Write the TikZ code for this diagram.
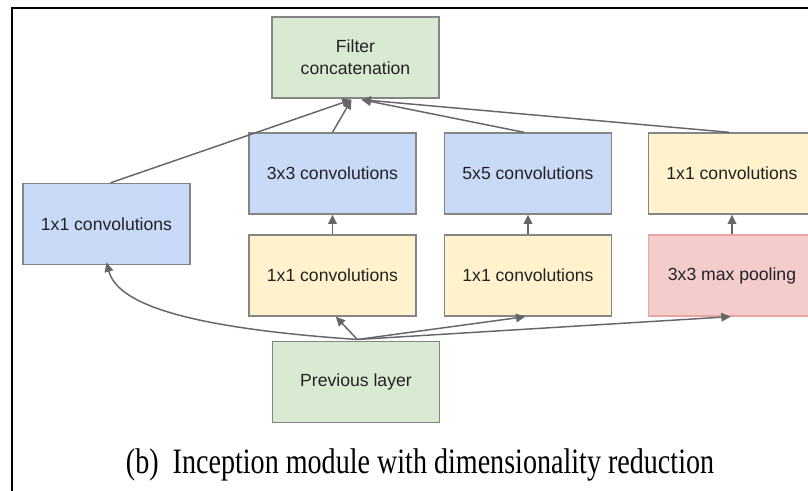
\documentclass[tikz,border=0pt]{standalone}
\usepackage{fontspec}
\setmainfont{Liberation Serif}
\newfontfamily\boxfont{Liberation Sans}
\usepackage{graphicx}
\usetikzlibrary{arrows.meta,calc}
\definecolor{bluef}{HTML}{C9DAF8}
\definecolor{yellowf}{HTML}{FFF2CC}
\definecolor{greenf}{HTML}{D9EAD3}
\definecolor{redf}{HTML}{F4CCCC}
\definecolor{redd}{HTML}{E8A3A3}
\definecolor{edgeg}{HTML}{858585}
\definecolor{arrowg}{HTML}{666666}
\definecolor{txt}{HTML}{222222}
\begin{document}
\begin{tikzpicture}[x=0.75pt,y=-0.75pt,
  blk/.style={draw=edgeg, line width=1pt, minimum width=125.25pt, minimum height=60.75pt,
    inner sep=0pt, align=center, text=txt, font=\boxfont\fontsize{13.2}{16.5}\selectfont},
  bluebox/.style={blk, fill=bluef},
  yellowbox/.style={blk, fill=yellowf},
  greenbox/.style={blk, fill=greenf},
  redbox/.style={blk, fill=redf, draw=redd},
  conn/.style={draw=arrowg, line width=1.1pt, -{Triangle[length=7pt,width=6.5pt]}}]
\useasboundingbox (0,0) rectangle (808,491);
\clip (0,0) rectangle (808,491);
\fill[white] (0,0) rectangle (808,491);
% frame
\draw[line width=1.4pt, black] (12,495) -- (12,8) -- (812,8);
% boxes
\node[greenbox] (filt) at (355.5,57.5) {Filter\\concatenation};
\node[bluebox] (c1) at (106.5,224) {1x1 convolutions};
\node[bluebox] (c3) at (332.5,173.5) {3x3 convolutions};
\node[bluebox] (c5) at (528,173.5) {5x5 convolutions};
\node[yellowbox] (p1) at (732,173.5) {1x1 convolutions};
\node[yellowbox] (r3) at (332.5,275.5) {1x1 convolutions};
\node[yellowbox] (r5) at (528,275.5) {1x1 convolutions};
\node[redbox] (mp) at (732,275.5) {3x3 max pooling};
\node[greenbox] (prev) at (356,382) {Previous layer};
% targets on filter concatenation
\coordinate (ta) at ($(filt.south)+(-4,1)$);
\coordinate (tb) at ($(filt.south)+(6,1)$);
% arrows to filter concatenation
\draw[conn] ([xshift=3]c1.north) -- (ta);
\draw[conn] (c3.north) -- (ta);
\draw[conn] ([xshift=-3]c5.north) -- (tb);
\draw[conn] ([xshift=-2]p1.north) -- (tb);
% vertical arrows
\draw[conn] (r3.north) -- (c3.south);
\draw[conn] (r5.north) -- (c5.south);
\draw[conn] (mp.north) -- (p1.south);
% arrows from previous layer
\coordinate (ps) at ([xshift=1,yshift=1]prev.north);
\draw[conn] (ps) .. controls (190,328) and (118,305) .. ([yshift=2]c1.south);
\draw[conn] (ps) -- ([xshift=2.5]r3.south);
\draw[conn] (ps) -- ([xshift=-2]r5.south);
\draw[conn] (ps) -- ([xshift=-1]mp.south);
% caption
\node[anchor=base, inner sep=0pt] (cap) at (420,474)
  {\scalebox{0.786}[1]{\fontsize{26.8}{30}\selectfont (b)\hspace{0.5em}Inception module with dimensionality reduction}};
\end{tikzpicture}
\end{document}
